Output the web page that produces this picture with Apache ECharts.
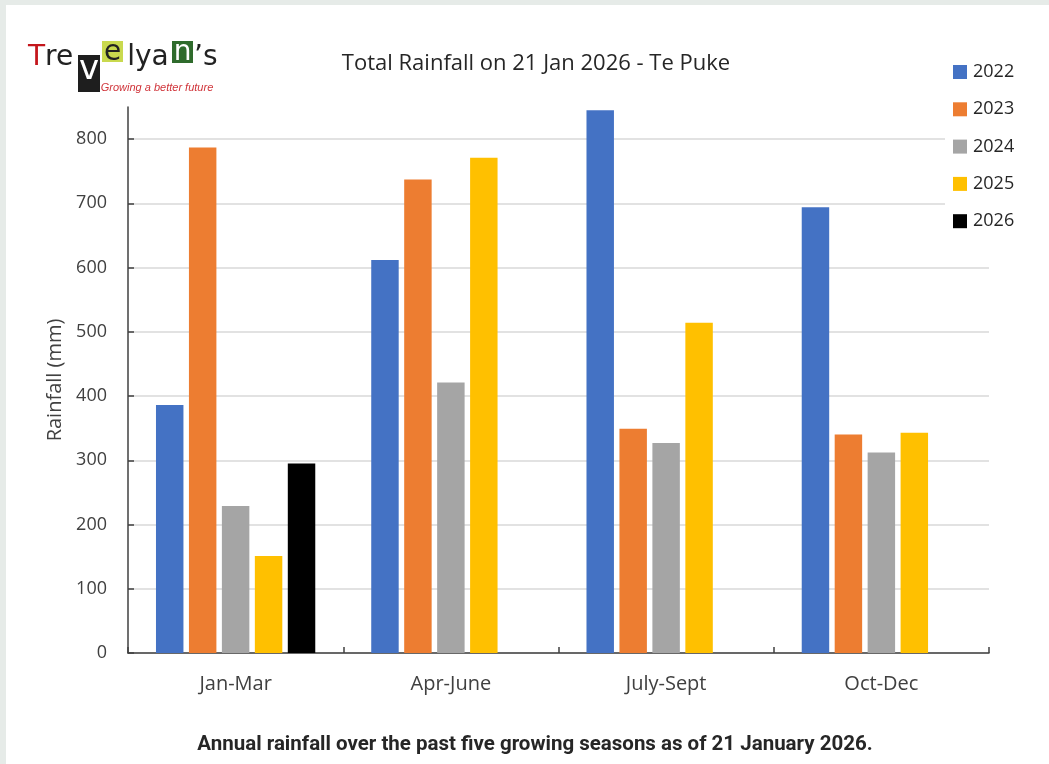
<!DOCTYPE html>
<html>
<head>
<meta charset="utf-8">
<script src="https://cdn.jsdelivr.net/npm/echarts@6/dist/echarts.min.js"></script>
<style>
  html, body { margin: 0; padding: 0; background: #ffffff; }
  #chart { width: 1049px; height: 764px; }
</style>
</head>
<body>
<div id="chart"></div>
<script>
// ---- data ----
const categories = ['Jan-Mar', 'Apr-June', 'July-Sept', 'Oct-Dec'];
const seriesNames = ['2022', '2023', '2024', '2025', '2026'];
const values2022 = [386, 612, 845, 694];
const values2023 = [787, 737, 349, 340];
const values2024 = [229, 421, 327, 312];
const values2025 = [151, 771, 514, 343];
const values2026 = [295, null, null, null];
const yTicks = [0, 100, 200, 300, 400, 500, 600, 700, 800];

const colors = ['#4472C4', '#ED7D31', '#A5A5A5', '#FFC000', '#000000'];
const allValues = [values2022, values2023, values2024, values2025, values2026];

const FONT = '"Open Sans", "Noto Sans", sans-serif';

const chart = echarts.init(document.getElementById('chart'), null, { renderer: 'canvas' });

const series = seriesNames.map((name, i) => ({
  name: name,
  type: 'bar',
  data: allValues[i],
  itemStyle: { color: colors[i] },
  barGap: '20%',
  barCategoryGap: '26%',
  animation: false
}));

const logoFont = '500 28px "DejaVu Sans", "Noto Sans", sans-serif';
const boxFont = '500 28px "DejaVu Sans", "Noto Sans", sans-serif';

chart.setOption({
  animation: false,
  backgroundColor: '#ffffff',
  color: colors,
  grid: { left: 128, right: 60, top: 107, bottom: 111, containLabel: false },
  legend: {
    orient: 'vertical',
    left: 945,
    top: 58,
    padding: [5, 8, 8, 8],
    backgroundColor: '#ffffff',
    itemWidth: 14,
    itemHeight: 14,
    itemGap: 19.3,
    icon: 'rect',
    textStyle: { fontFamily: FONT, fontSize: 18, color: '#262626', padding: [0, 0, 0, 1] },
    data: seriesNames
  },
  xAxis: {
    type: 'category',
    data: categories,
    boundaryGap: true,
    axisLine: { show: true, lineStyle: { color: '#404040', width: 1.5 } },
    axisTick: { show: true, inside: true, length: 6, lineStyle: { color: '#404040', width: 1.5 } },
    axisLabel: { fontFamily: FONT, fontSize: 20, color: '#404040', margin: 21 }
  },
  yAxis: {
    type: 'value',
    min: 0,
    max: 850,
    interval: 100,
    name: 'Rainfall (mm)',
    nameLocation: 'middle',
    nameGap: 58,
    nameTextStyle: { fontFamily: FONT, fontSize: 20, color: '#404040' },
    axisLine: { show: true, lineStyle: { color: '#404040', width: 1.5 } },
    axisTick: { show: true, inside: true, length: 6, customValues: yTicks, lineStyle: { color: '#404040', width: 1.5 } },
    axisLabel: { fontFamily: FONT, fontSize: 18, color: '#404040', margin: 21, customValues: yTicks },
    splitLine: { show: true, lineStyle: { color: '#d9d9d9', width: 1.5 } }
  },
  series: series,
  graphic: [
    // outer frame bands
    { type: 'rect', left: 0, top: 0, shape: { width: 1049, height: 5 }, style: { fill: '#e6ebe8' }, z: 100 },
    { type: 'rect', left: 0, top: 0, shape: { width: 6, height: 764 }, style: { fill: '#e6ebe8' }, z: 100 },
    // title
    { type: 'text', x: 536, y: 64, z: 100,
      style: { text: 'Total Rainfall on 21 Jan 2026 - Te Puke', font: '22px ' + FONT, fill: '#262626', textAlign: 'center', textVerticalAlign: 'middle' } },
    // caption
    { type: 'text', x: 535, y: 745, z: 100,
      style: { text: 'Annual rainfall over the past five growing seasons as of 21 January 2026.', font: 'bold 20.5px Roboto, "Liberation Sans", sans-serif', fill: '#262626', textAlign: 'center', textVerticalAlign: 'middle' } },
    // logo
    { type: 'rect', shape: { x: 78, y: 55, width: 22, height: 37 }, style: { fill: '#1e1e1e' }, z: 100 },
    { type: 'rect', shape: { x: 102, y: 41, width: 21, height: 21 }, style: { fill: '#c9d94e' }, z: 100 },
    { type: 'rect', shape: { x: 172, y: 41, width: 21, height: 22 }, style: { fill: '#2f6b2c' }, z: 100 },
    { type: 'text', x: 28, y: 58, z: 101, style: { text: 'T', font: logoFont, fill: '#c4161c', textVerticalAlign: 'middle' } },
    { type: 'text', x: 45, y: 58, z: 101, style: { text: 're', font: logoFont, fill: '#222222', textVerticalAlign: 'middle' } },
    { type: 'text', x: 89, y: 70, z: 101, style: { text: 'v', font: '500 34px "DejaVu Sans", sans-serif', fill: '#ffffff', textAlign: 'center', textVerticalAlign: 'middle' } },
    { type: 'text', x: 112.5, y: 53, z: 101, style: { text: 'e', font: boxFont, fill: '#222222', textAlign: 'center', textVerticalAlign: 'middle' } },
    { type: 'text', x: 148, y: 58, z: 101, style: { text: 'lya', font: logoFont, fill: '#222222', textAlign: 'center', textVerticalAlign: 'middle' } },
    { type: 'text', x: 182.5, y: 53, z: 101, style: { text: 'n', font: boxFont, fill: '#ffffff', textAlign: 'center', textVerticalAlign: 'middle' } },
    { type: 'text', x: 194, y: 58, z: 101, style: { text: '\u2019s', font: logoFont, fill: '#222222', textVerticalAlign: 'middle' } },
    { type: 'text', x: 157, y: 88, z: 101, style: { text: 'Growing a better future', font: 'italic 11px "Liberation Sans", sans-serif', fill: '#d0343a', textAlign: 'center', textVerticalAlign: 'middle' } }
  ]
});
</script>
</body>
</html>
